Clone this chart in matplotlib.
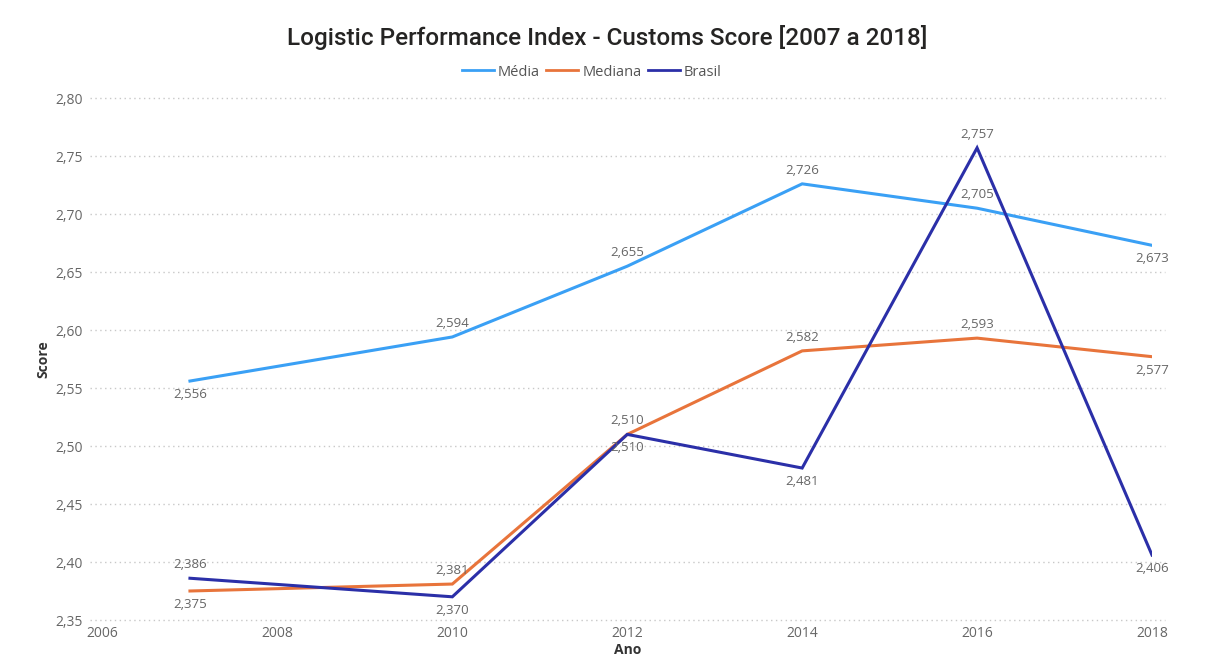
import matplotlib
matplotlib.use("Agg")
import matplotlib.pyplot as plt
from matplotlib.lines import Line2D

anos = [2007, 2010, 2012, 2014, 2016, 2018]
media = [2.556, 2.594, 2.655, 2.726, 2.705, 2.673]
mediana = [2.375, 2.381, 2.510, 2.582, 2.593, 2.577]
brasil = [2.386, 2.370, 2.510, 2.481, 2.757, 2.406]

# label placement: +1 above, -1 below
pos_media = [-1, 1, 1, 1, 1, -1]
pos_mediana = [-1, 1, 1, 1, 1, -1]
pos_brasil = [1, -1, -1, -1, 1, -1]

c_media = "#3AA0F5"
c_mediana = "#E8743B"
c_brasil = "#2B2FA8"

plt.rcParams['font.family'] = ['Open Sans', 'DejaVu Sans']

fig = plt.figure(figsize=(12.15, 6.64), dpi=100)
ax = fig.add_axes([102.5/1215, 1-620/664, (1152-102.5)/1215, (620-98)/664])

for y, c, pos in [(media, c_media, pos_media), (mediana, c_mediana, pos_mediana), (brasil, c_brasil, pos_brasil)]:
    ax.plot(anos, y, color=c, lw=2.2, solid_joinstyle='miter', zorder=3)
    for xv, yv, p in zip(anos, y, pos):
        ax.annotate(f"{yv:.3f}".replace('.', ','), (xv, yv), xytext=(0, 5*p),
                    textcoords='offset points', ha='center',
                    va='bottom' if p > 0 else 'top', fontsize=9.5, color='#666666', zorder=4)

ax.set_xlim(2006, 2018)
ax.set_ylim(2.35, 2.80)
ax.set_xticks(range(2006, 2019, 2))
yt = [2.35 + 0.05*i for i in range(10)]
ax.set_yticks(yt)
ax.set_yticklabels([f"{v:.2f}".replace('.', ',') for v in yt])
ax.tick_params(axis='both', length=0, labelsize=10, labelcolor='#666666')
ax.tick_params(axis='y', pad=14)
ax.tick_params(axis='x', pad=4)
for s in ax.spines.values():
    s.set_visible(False)
for v in yt:
    ax.axhline(v, xmin=-0.012, xmax=1.012, clip_on=False, linestyle=(0, (1, 2.5)),
               color='#C8C8C8', lw=1, zorder=1)

ax.set_ylabel("Score", fontsize=10, fontweight='bold', color='#333333', labelpad=4)
ax.set_xlabel("Ano", fontsize=10, fontweight='bold', color='#333333', labelpad=2)

fig.text(0.5, 1-38/664, "Logistic Performance Index - Customs Score [2007 a 2018]",
         ha='center', va='center', fontsize=17.5, color='#252423', family=['Roboto', 'DejaVu Sans'], fontweight='medium')

handles = [Line2D([], [], color=c, lw=2) for c in (c_media, c_mediana, c_brasil)]
fig.legend(handles, ["Média", "Mediana", "Brasil"], loc='center', bbox_to_anchor=(0.487, 1-72/664),
           ncol=3, frameon=False, fontsize=10.5, handlelength=2.2, handletextpad=0.3, columnspacing=0.4,
           labelcolor='#555555')

fig.savefig("out.png", dpi=100, facecolor='white')
